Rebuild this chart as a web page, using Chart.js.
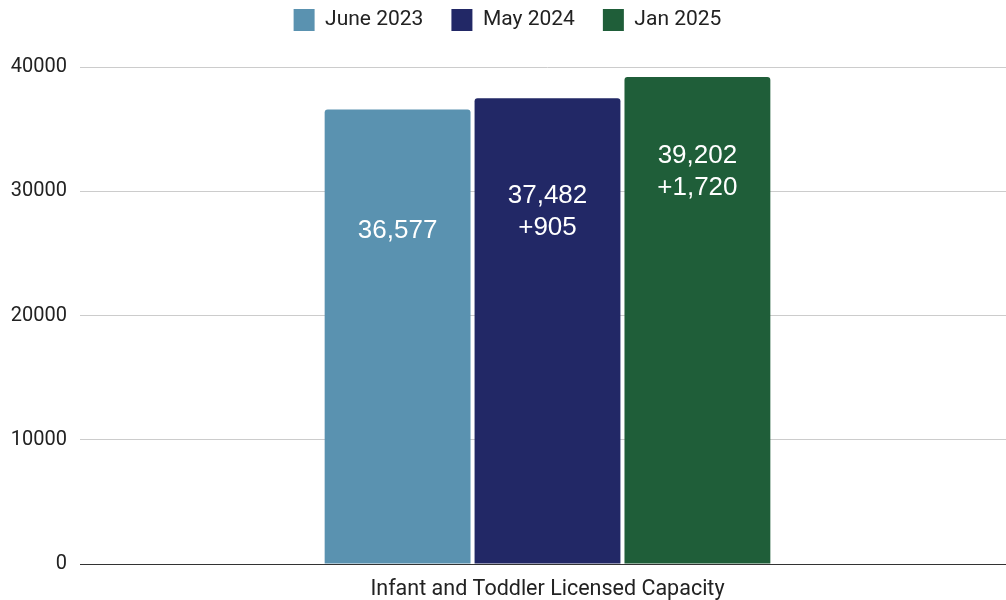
<!DOCTYPE html>
<html>
<head>
<meta charset="utf-8">
<script src="https://cdn.jsdelivr.net/npm/chart.js@4/dist/chart.umd.min.js"></script>
<style>
  html, body { margin: 0; padding: 0; background: #fff; overflow: hidden; }
  /* plot runs a few px past the right edge, as in the reference */
  #wrap { width: 1015px; height: 600px; }
</style>
</head>
<body>
<div id="wrap"><canvas id="chart"></canvas></div>
<script>
// data
const categories = ['Infant and Toddler Licensed Capacity'];
const seriesNames = ['June 2023', 'May 2024', 'Jan 2025'];
const seriesValues = [[36577], [37482], [39202]];
const barLabels = [['36,577'], ['37,482', '+905'], ['39,202', '+1,720']];
const yTicks = [0, 10000, 20000, 30000, 40000];

// styling
const colors = ['#5A92B0', '#222866', '#1F5E39'];
const labelOffsets = [121, 98, 79]; // first text line centre below bar top

const barText = {
    id: 'barText',
    afterDatasetsDraw(chart) {
        const ctx = chart.ctx;
        ctx.save();
        ctx.font = '26px "Liberation Sans", Arial, sans-serif';
        ctx.fillStyle = '#ffffff';
        ctx.textAlign = 'center';
        ctx.textBaseline = 'middle';
        chart.data.datasets.forEach((ds, i) => {
            const bar = chart.getDatasetMeta(i).data[0];
            barLabels[i].forEach((line, j) => {
                ctx.fillText(line, bar.x, bar.y + labelOffsets[i] + j * 32);
            });
        });
        ctx.restore();
    }
};

const legendSpace = {
    id: 'legendSpace',
    beforeInit(chart) {
        const fit = chart.legend.fit;
        chart.legend.fit = function () {
            fit.call(this);
            this.height = 86;
        };
    }
};

new Chart(document.getElementById('chart'), {
    type: 'bar',
    data: {
        labels: categories,
        datasets: seriesNames.map((name, i) => ({
            label: name,
            data: seriesValues[i],
            backgroundColor: colors[i],
            borderRadius: 3,
            categoryPercentage: 0.481,
            barPercentage: 0.973
        }))
    },
    options: {
        responsive: true,
        maintainAspectRatio: false,
        animation: false,
        layout: { padding: { top: -19, right: 0, left: 0, bottom: 0 } },
        plugins: {
            legend: {
                position: 'top',
                labels: {
                    boxWidth: 21,
                    boxHeight: 22,
                    padding: 28,
                    color: '#222',
                    font: { family: 'Roboto', size: 21 }
                }
            },
            tooltip: { enabled: false }
        },
        scales: {
            x: {
                grid: { display: false, drawTicks: false },
                border: { display: true, color: '#333', width: 1 },
                ticks: { color: '#222', padding: 13, font: { family: 'Roboto', size: 21.5 } },
                afterFit(s) { s.height = 36; }
            },
            y: {
                min: 0,
                max: 40000,
                afterBuildTicks(s) { s.ticks = yTicks.map(v => ({ value: v })); },
                grid: {
                    drawTicks: false,
                    color: c => c.tick && c.tick.value === 0 ? '#333' : '#cccccc'
                },
                border: { display: false },
                ticks: {
                    color: '#222',
                    padding: 13,
                    font: { family: 'Roboto', size: 20 },
                    callback: v => String(v)
                },
                afterFit(s) { s.width = 80; }
            }
        }
    },
    plugins: [barText, legendSpace]
});
</script>
</body>
</html>
